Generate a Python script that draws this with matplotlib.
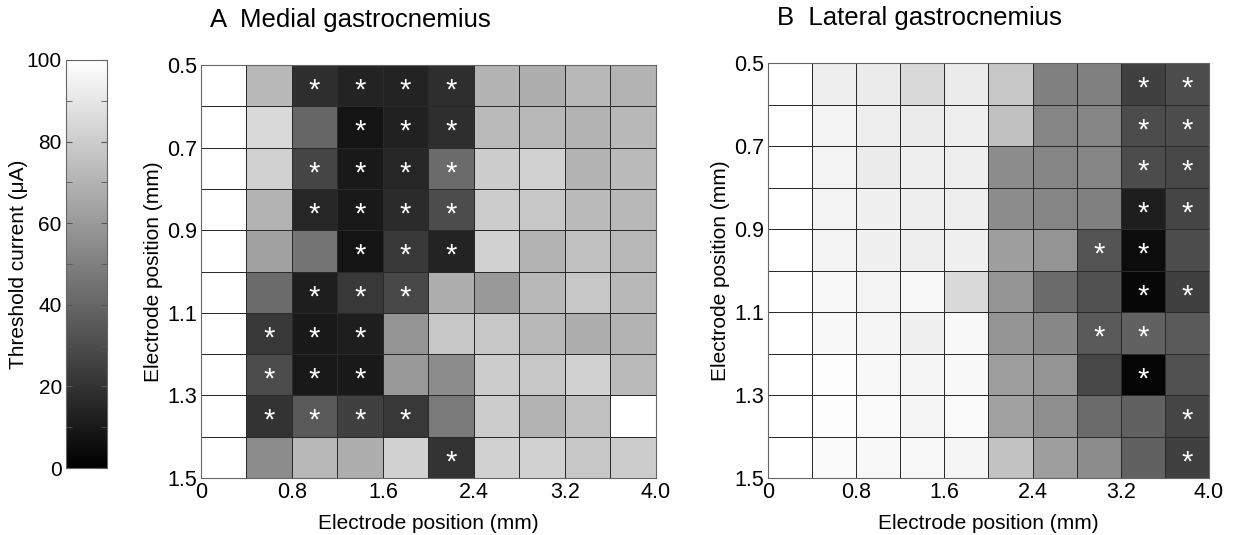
import matplotlib.pyplot as plt
import numpy as np

plt.rcParams['font.family'] = 'Liberation Sans'
plt.rcParams['font.size'] = 13

# electrode grid positions (mm)
x_edges = [0, 0.4, 0.8, 1.2, 1.6, 2.0, 2.4, 2.8, 3.2, 3.6, 4.0]
y_edges = [0.5, 0.6, 0.7, 0.8, 0.9, 1.0, 1.1, 1.2, 1.3, 1.4, 1.5]
x_ticks = [0, 0.8, 1.6, 2.4, 3.2, 4.0]
x_ticklabels = ['0', '0.8', '1.6', '2.4', '3.2', '4.0']
y_ticks = [0.5, 0.7, 0.9, 1.1, 1.3, 1.5]

# threshold current (uA), rows top -> bottom
medial = [
    [100, 72, 18, 14, 14, 18, 70, 68, 72, 70],
    [100, 85, 40, 8, 13, 18, 73, 72, 70, 72],
    [100, 82, 27, 10, 15, 42, 80, 82, 70, 73],
    [100, 70, 15, 10, 17, 30, 80, 78, 73, 72],
    [100, 63, 45, 8, 22, 14, 82, 70, 75, 72],
    [100, 42, 12, 22, 28, 68, 60, 72, 78, 72],
    [100, 22, 10, 12, 58, 78, 78, 72, 68, 70],
    [100, 30, 10, 10, 60, 55, 80, 78, 82, 73],
    [100, 20, 35, 25, 22, 48, 80, 70, 75, 100],
    [100, 55, 72, 68, 82, 20, 82, 82, 78, 80],
]
lateral = [
    [100, 93, 92, 85, 92, 78, 50, 50, 25, 30],
    [100, 95, 93, 92, 93, 75, 52, 52, 30, 30],
    [100, 95, 92, 93, 93, 55, 52, 52, 30, 28],
    [100, 95, 94, 93, 93, 55, 52, 50, 12, 27],
    [100, 95, 94, 93, 94, 62, 58, 33, 5, 30],
    [100, 97, 95, 97, 85, 58, 42, 32, 3, 25],
    [100, 97, 96, 94, 97, 58, 53, 35, 38, 35],
    [100, 99, 97, 96, 97, 62, 58, 28, 2, 32],
    [100, 99, 98, 96, 98, 63, 56, 42, 38, 27],
    [100, 98, 97, 97, 96, 76, 62, 55, 38, 25],
]

# significant sites (row, col)
medial_sig = [(0, 2), (0, 3), (0, 4), (0, 5),
              (1, 3), (1, 4), (1, 5),
              (2, 2), (2, 3), (2, 4), (2, 5),
              (3, 2), (3, 3), (3, 4), (3, 5),
              (4, 3), (4, 4), (4, 5),
              (5, 2), (5, 3), (5, 4),
              (6, 1), (6, 2), (6, 3),
              (7, 1), (7, 2), (7, 3),
              (8, 1), (8, 2), (8, 3), (8, 4),
              (9, 5)]
lateral_sig = [(0, 8), (0, 9), (1, 8), (1, 9), (2, 8), (2, 9), (3, 8), (3, 9),
               (4, 7), (4, 8), (5, 8), (5, 9), (6, 7), (6, 8), (7, 8),
               (8, 9), (9, 9)]


def draw_panel(ax, data, sig, title):
    mesh = ax.pcolormesh(x_edges, y_edges, np.array(data), cmap='gray',
                         vmin=0, vmax=100, edgecolors='#2a2a2a', linewidth=0.45)
    for r, c in sig:
        xc = (x_edges[c] + x_edges[c + 1]) / 2
        yc = (y_edges[r] + y_edges[r + 1]) / 2
        ax.text(xc, yc + 0.012, '*', color='white', ha='center', va='center',
                fontsize=21)
    ax.set_xlim(0, 4.0)
    ax.set_ylim(1.5, 0.5)
    ax.set_xticks(x_ticks)
    ax.set_xticklabels(x_ticklabels)
    ax.set_yticks(y_ticks)
    ax.set_yticklabels([f'{v:.1f}' for v in y_ticks])
    ax.tick_params(length=0, labelsize=15.5, pad=3)
    ax.set_xlabel('Electrode position (mm)', fontsize=15, labelpad=8)
    ax.set_ylabel('Electrode position (mm)', fontsize=15, labelpad=3)
    for s in ax.spines.values():
        s.set_color('#666666')
        s.set_linewidth(0.8)
    ax.text(0.02, 1.08, title, transform=ax.transAxes, fontsize=18.5,
            ha='left', va='bottom')
    return mesh


fig = plt.figure(figsize=(12.56, 5.35), dpi=100)
ax1 = fig.add_axes([0.160, 0.1065, 0.362, 0.772])
ax2 = fig.add_axes([0.6115, 0.1065, 0.351, 0.7755])
cax = fig.add_axes([0.0525, 0.125, 0.0326, 0.763])

mesh = draw_panel(ax1, medial, medial_sig, 'A  Medial gastrocnemius')
draw_panel(ax2, lateral, lateral_sig, 'B  Lateral gastrocnemius')

cb = fig.colorbar(mesh, cax=cax)
cb.outline.set_edgecolor('#666666')
cax.yaxis.set_ticks_position('both')
cax.yaxis.set_label_position('left')
cax.yaxis.set_ticks([0, 20, 40, 60, 80, 100])
cax.yaxis.set_ticks(np.arange(10, 100, 20), minor=True)
cax.tick_params(which='both', direction='in', length=4, color='#555555',
                labelleft=True, labelright=False, labelsize=15, pad=3)
cax.set_ylabel('Threshold current (μA)', fontsize=15)
cax.yaxis.set_label_coords(-0.92, 0.5)

fig.savefig('out.png', dpi=100)
